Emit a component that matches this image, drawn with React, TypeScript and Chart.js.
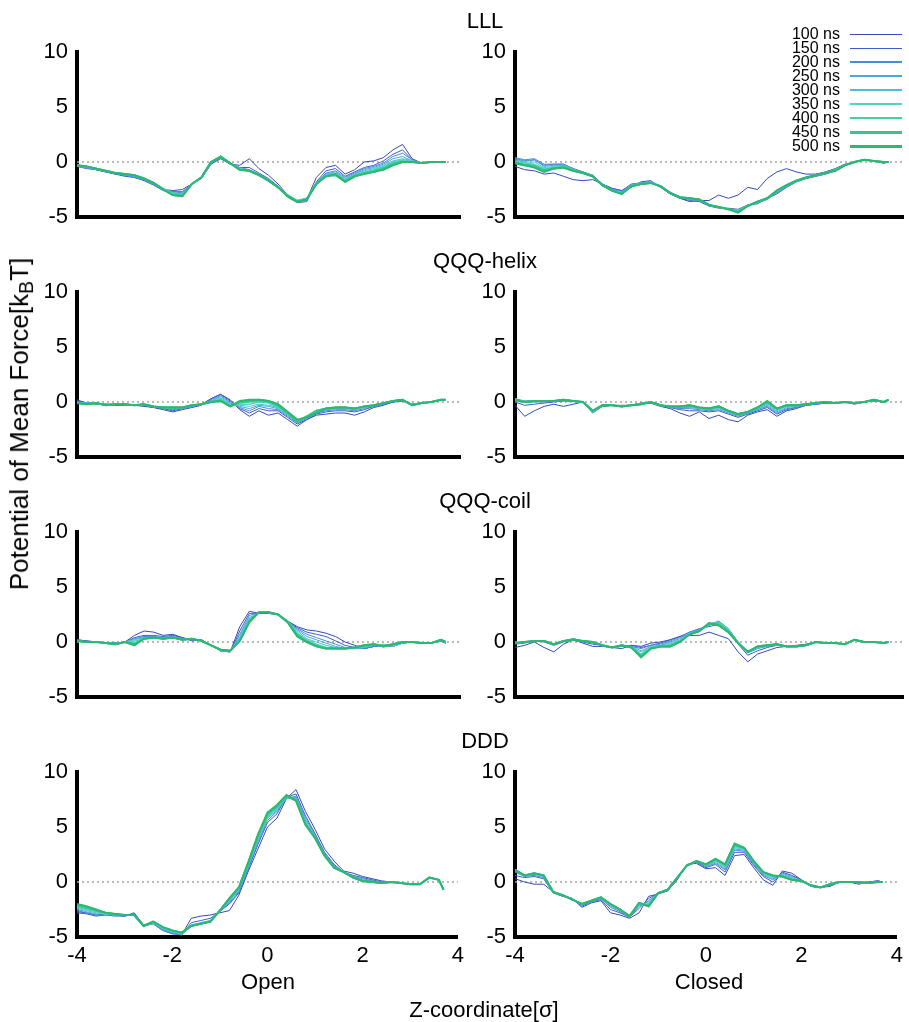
import React, { useEffect, useRef } from "react";
import { Chart, registerables } from "chart.js";

Chart.register(...registerables);

// ---- data ----
const X_VALUES = [-4.0,-3.8,-3.6,-3.4,-3.2,-3.0,-2.8,-2.6,-2.4,-2.2,-2.0,-1.8,-1.6,-1.4,-1.2,-1.0,-0.8,-0.6,-0.4,-0.2,0.0,0.2,0.4,0.6,0.8,1.0,1.2,1.4,1.6,1.8,2.0,2.2,2.4,2.6,2.8,3.0,3.2,3.4,3.6,3.7];
const SERIES = ["100 ns","150 ns","200 ns","250 ns","300 ns","350 ns","400 ns","450 ns","500 ns"];
const X_TICKS = [-4, -2, 0, 2, 4];
const Y_TICKS = [-5, 0, 5, 10];
const ROW_TITLES = ["LLL", "QQQ-helix", "QQQ-coil", "DDD"];
const COL_TITLES = ["Open", "Closed"];

const LLL_OPEN = [
  [-0.3,-0.5,-0.7,-0.9,-1.1,-1.2,-1.4,-1.6,-2.0,-2.5,-2.6,-2.5,-2.0,-1.5,-0.2,0.3,-0.2,-0.3,0.3,-0.6,-1.2,-2.0,-3.0,-3.5,-3.4,-1.4,-0.5,-0.3,-1.1,-0.7,0.0,0.1,0.4,1.1,1.6,0.3,-0.1,0.0,0.0,0.0],
  [-0.4,-0.6,-0.7,-0.9,-1.1,-1.3,-1.4,-1.7,-2.1,-2.6,-2.7,-2.7,-2.0,-1.4,-0.1,0.4,-0.2,-0.5,-0.5,-1.0,-1.5,-2.2,-3.2,-3.7,-3.6,-1.8,-0.8,-0.6,-1.3,-0.9,-0.5,-0.3,0.1,0.7,1.1,0.2,-0.1,0.0,0.0,0.0],
  [-0.4,-0.5,-0.7,-0.9,-1.0,-1.2,-1.4,-1.6,-2.0,-2.5,-2.7,-2.8,-2.0,-1.4,-0.1,0.5,-0.1,-0.5,-0.7,-1.1,-1.6,-2.2,-3.1,-3.6,-3.5,-1.9,-1.0,-0.8,-1.4,-1.0,-0.6,-0.4,-0.1,0.5,0.8,0.2,-0.1,0.0,0.0,0.0],
  [-0.4,-0.5,-0.7,-0.8,-1.0,-1.2,-1.3,-1.6,-2.0,-2.4,-2.8,-2.9,-2.0,-1.4,-0.1,0.5,-0.1,-0.6,-0.8,-1.2,-1.7,-2.3,-3.0,-3.5,-3.4,-1.9,-1.1,-0.9,-1.5,-1.1,-0.7,-0.5,-0.2,0.3,0.5,0.1,-0.1,0.0,0.0,0.0],
  [-0.3,-0.5,-0.6,-0.8,-1.0,-1.1,-1.3,-1.5,-1.9,-2.4,-2.8,-2.9,-2.0,-1.4,0.0,0.5,-0.1,-0.6,-0.8,-1.2,-1.7,-2.3,-3.0,-3.5,-3.3,-1.9,-1.1,-1.0,-1.6,-1.1,-0.8,-0.6,-0.3,0.1,0.3,0.1,-0.1,0.0,0.0,0.0],
  [-0.3,-0.4,-0.6,-0.8,-1.0,-1.1,-1.2,-1.5,-1.9,-2.4,-2.9,-3.0,-2.0,-1.4,0.0,0.5,-0.1,-0.6,-0.8,-1.2,-1.7,-2.3,-3.0,-3.5,-3.3,-1.9,-1.2,-1.1,-1.6,-1.2,-0.9,-0.7,-0.4,0.0,0.2,0.1,-0.1,0.0,0.0,0.0],
  [-0.3,-0.4,-0.6,-0.8,-1.0,-1.1,-1.2,-1.5,-1.9,-2.5,-2.9,-3.0,-2.0,-1.4,0.0,0.5,-0.1,-0.7,-0.8,-1.2,-1.7,-2.3,-3.0,-3.6,-3.3,-2.0,-1.2,-1.2,-1.7,-1.2,-1.0,-0.8,-0.5,-0.1,0.1,0.0,-0.1,0.0,0.0,0.0],
  [-0.3,-0.4,-0.6,-0.8,-1.0,-1.1,-1.2,-1.5,-1.9,-2.5,-3.0,-3.1,-2.0,-1.4,0.0,0.5,-0.1,-0.7,-0.8,-1.2,-1.7,-2.3,-3.1,-3.6,-3.4,-2.0,-1.3,-1.2,-1.8,-1.3,-1.0,-0.9,-0.6,-0.2,0.0,0.0,-0.1,0.0,0.0,0.0],
  [-0.3,-0.4,-0.6,-0.8,-1.0,-1.1,-1.2,-1.5,-1.9,-2.5,-3.0,-3.1,-2.0,-1.4,0.0,0.4,-0.1,-0.7,-0.8,-1.2,-1.7,-2.3,-3.1,-3.6,-3.4,-2.0,-1.3,-1.1,-1.8,-1.3,-1.1,-0.9,-0.7,-0.3,0.0,0.0,-0.1,0.0,0.0,0.0],
];

const LLL_CLOSED = [
  [-0.4,-0.7,-0.8,-1.1,-1.0,-1.3,-1.6,-1.7,-1.6,-2.0,-2.4,-2.6,-2.3,-1.8,-1.7,-2.3,-2.9,-3.3,-3.6,-3.5,-3.5,-3.0,-3.3,-3.0,-2.3,-2.5,-1.5,-0.9,-0.6,-0.9,-1.1,-1.1,-0.9,-0.6,-0.2,0.0,0.2,0.1,-0.1,0.0],
  [0.3,0.1,0.2,-0.3,-0.2,-0.2,-0.6,-0.9,-1.2,-2.0,-2.4,-2.6,-2.0,-1.9,-1.8,-2.3,-2.9,-3.3,-3.5,-3.6,-4.0,-4.2,-4.2,-4.3,-3.9,-3.8,-3.3,-2.9,-2.3,-1.8,-1.5,-1.3,-1.1,-0.8,-0.3,0.0,0.2,0.1,-0.1,0.0],
  [0.4,0.2,0.3,-0.2,-0.2,-0.2,-0.6,-0.9,-1.2,-2.0,-2.5,-2.7,-2.1,-1.9,-1.8,-2.2,-2.8,-3.2,-3.4,-3.5,-4.0,-4.1,-4.3,-4.4,-3.9,-3.7,-3.4,-2.8,-2.3,-1.8,-1.5,-1.3,-1.1,-0.8,-0.3,0.0,0.2,0.1,0.0,0.0],
  [0.3,0.1,0.2,-0.4,-0.3,-0.3,-0.6,-1.0,-1.2,-2.0,-2.5,-2.7,-2.1,-1.9,-1.8,-2.2,-2.8,-3.2,-3.4,-3.5,-3.9,-4.1,-4.3,-4.4,-3.9,-3.7,-3.4,-2.7,-2.2,-1.8,-1.5,-1.2,-1.0,-0.8,-0.3,0.0,0.2,0.1,0.0,0.0],
  [0.2,0.0,0.0,-0.5,-0.4,-0.3,-0.7,-1.0,-1.3,-2.1,-2.6,-2.8,-2.1,-1.9,-1.8,-2.2,-2.8,-3.2,-3.3,-3.4,-3.9,-4.1,-4.3,-4.4,-4.0,-3.6,-3.4,-2.7,-2.2,-1.7,-1.4,-1.2,-1.0,-0.8,-0.3,0.0,0.2,0.1,0.0,0.0],
  [0.1,-0.1,-0.2,-0.6,-0.5,-0.4,-0.7,-1.0,-1.3,-2.1,-2.6,-2.8,-2.2,-2.0,-1.9,-2.2,-2.8,-3.2,-3.3,-3.4,-3.9,-4.1,-4.3,-4.4,-4.0,-3.6,-3.3,-2.6,-2.1,-1.7,-1.4,-1.2,-1.0,-0.7,-0.3,0.0,0.2,0.1,0.0,0.0],
  [0.0,-0.2,-0.3,-0.7,-0.5,-0.4,-0.7,-1.0,-1.3,-2.1,-2.6,-2.9,-2.2,-2.0,-1.9,-2.2,-2.8,-3.2,-3.3,-3.4,-3.9,-4.1,-4.3,-4.5,-4.0,-3.6,-3.3,-2.6,-2.1,-1.7,-1.4,-1.2,-1.0,-0.7,-0.3,0.0,0.2,0.1,0.0,0.0],
  [-0.1,-0.3,-0.4,-0.8,-0.6,-0.5,-0.8,-1.0,-1.3,-2.1,-2.6,-2.9,-2.2,-2.0,-1.9,-2.2,-2.8,-3.2,-3.3,-3.4,-3.9,-4.1,-4.3,-4.5,-4.0,-3.6,-3.3,-2.6,-2.1,-1.7,-1.4,-1.2,-1.0,-0.8,-0.3,0.0,0.2,0.1,0.0,0.0],
  [-0.1,-0.3,-0.5,-0.9,-0.6,-0.5,-0.8,-1.0,-1.3,-2.1,-2.6,-2.9,-2.2,-2.0,-1.9,-2.2,-2.8,-3.2,-3.3,-3.4,-3.9,-4.1,-4.3,-4.6,-4.0,-3.6,-3.3,-2.6,-2.1,-1.7,-1.4,-1.2,-1.0,-0.8,-0.3,0.0,0.2,0.1,0.0,0.0],
];

const HELIX_OPEN = [
  [0.2,-0.1,-0.2,-0.2,-0.3,-0.3,-0.3,-0.4,-0.5,-0.7,-0.9,-0.7,-0.5,-0.3,0.3,0.7,0.2,-0.7,-1.3,-0.8,-1.2,-1.0,-1.6,-2.2,-1.6,-1.2,-1.1,-1.0,-1.0,-1.2,-0.9,-0.5,-0.3,0.0,0.1,-0.2,-0.1,0.0,0.2,0.2],
  [0.1,-0.1,-0.1,-0.2,-0.3,-0.2,-0.3,-0.3,-0.5,-0.6,-0.8,-0.6,-0.4,-0.2,0.3,0.7,0.1,-0.6,-1.0,-0.6,-0.8,-0.8,-1.4,-2.0,-1.6,-1.1,-0.9,-0.8,-0.8,-0.9,-0.7,-0.4,-0.2,0.0,0.1,-0.2,-0.1,0.0,0.2,0.2],
  [0.0,-0.1,-0.1,-0.2,-0.2,-0.2,-0.3,-0.3,-0.4,-0.6,-0.7,-0.6,-0.4,-0.2,0.2,0.6,0.0,-0.5,-0.8,-0.4,-0.6,-0.7,-1.3,-1.9,-1.5,-1.0,-0.8,-0.7,-0.7,-0.8,-0.6,-0.4,-0.2,0.1,0.2,-0.2,-0.1,0.0,0.2,0.2],
  [0.0,-0.1,-0.1,-0.2,-0.2,-0.2,-0.3,-0.3,-0.4,-0.5,-0.6,-0.6,-0.4,-0.2,0.1,0.5,-0.1,-0.4,-0.6,-0.3,-0.4,-0.6,-1.2,-1.8,-1.4,-0.9,-0.7,-0.6,-0.6,-0.7,-0.5,-0.3,-0.1,0.1,0.2,-0.2,-0.1,0.0,0.2,0.2],
  [-0.1,-0.1,-0.1,-0.2,-0.2,-0.2,-0.3,-0.3,-0.4,-0.5,-0.6,-0.5,-0.3,-0.2,0.1,0.4,-0.2,-0.3,-0.4,-0.2,-0.3,-0.5,-1.1,-1.7,-1.4,-0.9,-0.7,-0.6,-0.6,-0.6,-0.5,-0.3,-0.1,0.1,0.2,-0.2,-0.1,0.0,0.2,0.2],
  [-0.1,-0.2,-0.1,-0.3,-0.2,-0.2,-0.3,-0.2,-0.4,-0.5,-0.5,-0.5,-0.3,-0.2,0.0,0.3,-0.3,-0.2,-0.2,0.0,-0.1,-0.5,-1.1,-1.7,-1.3,-0.8,-0.6,-0.5,-0.5,-0.6,-0.4,-0.3,-0.1,0.1,0.2,-0.3,-0.1,0.0,0.2,0.2],
  [-0.1,-0.2,-0.1,-0.3,-0.2,-0.2,-0.3,-0.2,-0.4,-0.5,-0.5,-0.5,-0.3,-0.2,0.0,0.2,-0.3,-0.1,0.0,0.1,0.0,-0.4,-1.1,-1.8,-1.3,-0.8,-0.6,-0.5,-0.5,-0.6,-0.4,-0.3,-0.1,0.1,0.2,-0.3,-0.1,0.0,0.2,0.2],
  [-0.1,-0.2,-0.1,-0.3,-0.2,-0.2,-0.3,-0.2,-0.4,-0.5,-0.5,-0.5,-0.3,-0.2,0.0,0.1,-0.4,0.0,0.1,0.2,0.1,-0.3,-1.0,-1.8,-1.3,-0.8,-0.6,-0.5,-0.5,-0.6,-0.4,-0.3,-0.1,0.1,0.2,-0.3,-0.1,0.0,0.2,0.2],
  [-0.1,-0.2,-0.1,-0.3,-0.2,-0.2,-0.3,-0.2,-0.4,-0.5,-0.5,-0.5,-0.3,-0.2,0.0,0.1,-0.4,0.1,0.2,0.2,0.1,-0.2,-0.9,-1.6,-1.4,-1.0,-0.6,-0.5,-0.5,-0.6,-0.4,-0.3,-0.1,0.1,0.2,-0.3,-0.1,0.0,0.2,0.2],
];

const HELIX_CLOSED = [
  [-0.3,-1.3,-0.8,-0.4,-0.2,-0.4,-0.2,0.0,-0.9,-0.4,-0.3,-0.3,-0.3,-0.1,-0.1,-0.4,-0.6,-1.0,-1.3,-0.9,-1.5,-1.2,-1.6,-1.8,-1.2,-0.9,-0.7,-1.3,-0.8,-0.6,-0.3,-0.2,-0.1,-0.1,0.0,-0.2,0.0,0.1,0.0,0.2],
  [0.0,-0.3,-0.2,-0.1,0.0,0.1,0.1,0.0,-0.9,-0.4,-0.3,-0.4,-0.3,-0.1,-0.1,-0.3,-0.5,-0.7,-0.8,-0.8,-0.9,-0.8,-1.1,-1.4,-1.1,-0.8,-0.5,-1.1,-0.7,-0.5,-0.3,-0.2,-0.1,-0.1,0.0,-0.1,0.0,0.1,0.0,0.2],
  [0.1,0.0,0.0,0.0,0.1,0.1,0.1,0.0,-1.0,-0.4,-0.3,-0.4,-0.3,-0.1,0.0,-0.3,-0.5,-0.6,-0.6,-0.7,-0.8,-0.7,-1.0,-1.3,-1.0,-0.7,-0.4,-1.0,-0.6,-0.5,-0.3,-0.2,0.0,-0.1,0.0,-0.1,0.0,0.1,0.0,0.2],
  [0.2,0.1,0.1,0.1,0.1,0.2,0.1,0.0,-1.0,-0.4,-0.3,-0.4,-0.3,-0.1,0.0,-0.3,-0.4,-0.5,-0.5,-0.6,-0.7,-0.6,-0.9,-1.2,-1.0,-0.7,-0.3,-0.9,-0.5,-0.4,-0.2,-0.1,0.0,-0.1,0.0,-0.1,0.0,0.1,0.0,0.2],
  [0.3,0.1,0.1,0.1,0.1,0.2,0.1,0.0,-0.9,-0.3,-0.3,-0.4,-0.3,-0.1,0.0,-0.3,-0.4,-0.5,-0.4,-0.6,-0.7,-0.5,-0.9,-1.2,-0.9,-0.6,-0.2,-0.8,-0.4,-0.4,-0.2,-0.1,0.0,-0.1,0.0,-0.1,0.0,0.2,0.0,0.2],
  [0.3,0.0,0.1,0.1,0.1,0.2,0.1,0.0,-0.9,-0.3,-0.3,-0.4,-0.3,-0.2,0.0,-0.3,-0.4,-0.4,-0.3,-0.5,-0.6,-0.5,-0.8,-1.1,-0.9,-0.6,-0.1,-0.7,-0.4,-0.3,-0.2,-0.1,0.0,-0.1,0.0,-0.1,0.0,0.2,0.0,0.2],
  [0.2,0.0,0.1,0.1,0.1,0.2,0.1,0.0,-0.8,-0.3,-0.3,-0.4,-0.3,-0.2,0.0,-0.3,-0.4,-0.4,-0.3,-0.5,-0.6,-0.4,-0.8,-1.1,-0.9,-0.5,0.0,-0.7,-0.3,-0.3,-0.2,-0.1,0.0,-0.1,0.0,-0.1,0.0,0.2,0.0,0.2],
  [0.2,0.0,0.1,0.1,0.1,0.2,0.1,0.0,-0.8,-0.3,-0.3,-0.4,-0.3,-0.2,0.0,-0.3,-0.4,-0.4,-0.3,-0.5,-0.6,-0.4,-0.8,-1.1,-0.9,-0.5,0.0,-0.6,-0.3,-0.3,-0.2,-0.1,0.0,-0.1,0.0,-0.1,0.0,0.2,0.0,0.2],
  [0.2,0.0,0.1,0.1,0.1,0.2,0.1,0.0,-0.8,-0.3,-0.3,-0.4,-0.3,-0.2,0.0,-0.3,-0.4,-0.4,-0.3,-0.5,-0.6,-0.4,-0.8,-1.1,-0.9,-0.5,0.1,-0.6,-0.3,-0.3,-0.2,-0.1,0.0,-0.1,0.0,-0.1,0.0,0.2,0.0,0.2],
];

const COIL_OPEN = [
  [0.2,0.1,0.0,-0.1,-0.1,0.0,0.6,1.0,0.9,0.6,0.7,0.4,0.1,0.2,-0.3,-0.8,-0.9,1.4,2.8,2.6,2.6,2.5,1.9,1.4,1.1,1.0,0.8,0.5,0.0,-0.3,-0.6,-0.4,-0.3,-0.3,-0.1,0.0,-0.1,-0.1,0.1,-0.1],
  [0.2,0.1,0.0,-0.1,-0.1,0.0,0.4,0.6,0.6,0.5,0.6,0.4,0.2,0.2,-0.3,-0.8,-0.9,1.0,2.6,2.6,2.6,2.5,1.9,1.3,0.9,0.7,0.5,0.1,-0.3,-0.5,-0.6,-0.4,-0.3,-0.4,-0.1,0.0,-0.1,-0.1,0.1,-0.1],
  [0.2,0.0,0.0,-0.1,-0.1,0.0,0.3,0.5,0.5,0.4,0.5,0.3,0.2,0.2,-0.3,-0.8,-0.9,0.7,2.4,2.7,2.7,2.5,1.9,1.2,0.7,0.4,0.1,-0.2,-0.5,-0.6,-0.6,-0.4,-0.3,-0.4,-0.1,0.0,-0.1,-0.1,0.1,-0.1],
  [0.1,0.0,0.0,-0.1,-0.1,0.0,0.3,0.4,0.5,0.4,0.5,0.3,0.3,0.1,-0.3,-0.8,-0.9,0.5,2.2,2.7,2.7,2.5,1.9,1.1,0.5,0.2,-0.1,-0.4,-0.6,-0.6,-0.5,-0.3,-0.3,-0.4,-0.1,0.0,-0.1,-0.1,0.1,-0.1],
  [0.1,0.0,0.0,-0.1,-0.2,0.0,0.2,0.4,0.4,0.3,0.4,0.2,0.3,0.1,-0.3,-0.8,-0.8,0.4,2.1,2.7,2.7,2.5,1.9,1.0,0.3,0.0,-0.3,-0.5,-0.6,-0.6,-0.5,-0.3,-0.2,-0.4,-0.1,0.0,-0.1,-0.1,0.2,0.0],
  [0.1,0.0,0.0,-0.1,-0.2,0.0,0.1,0.3,0.4,0.3,0.4,0.2,0.3,0.1,-0.3,-0.7,-0.8,0.3,2.0,2.7,2.7,2.5,1.9,0.8,0.2,-0.2,-0.5,-0.6,-0.6,-0.5,-0.4,-0.2,-0.3,-0.3,0.0,0.0,-0.1,-0.1,0.2,0.0],
  [0.1,0.0,0.0,-0.1,-0.2,0.0,-0.1,0.3,0.4,0.3,0.4,0.2,0.3,0.1,-0.3,-0.7,-0.8,0.2,1.9,2.7,2.7,2.5,1.9,0.7,0.1,-0.3,-0.5,-0.6,-0.6,-0.5,-0.4,-0.2,-0.3,-0.2,0.0,0.0,-0.1,-0.1,0.2,0.0],
  [0.1,0.0,0.0,-0.1,-0.2,0.0,-0.2,0.3,0.4,0.3,0.4,0.2,0.3,0.1,-0.3,-0.7,-0.8,0.1,1.9,2.7,2.7,2.5,1.8,0.6,0.0,-0.4,-0.6,-0.6,-0.6,-0.5,-0.3,-0.2,-0.4,-0.2,0.0,0.0,-0.1,-0.1,0.2,0.0],
  [0.1,0.0,0.0,-0.1,-0.2,0.0,-0.3,0.3,0.4,0.3,0.4,0.2,0.3,0.1,-0.3,-0.7,-0.8,0.1,1.8,2.7,2.7,2.5,1.8,0.5,0.0,-0.4,-0.6,-0.6,-0.6,-0.5,-0.3,-0.2,-0.4,-0.2,0.0,0.0,-0.1,-0.1,0.2,0.0],
];

const COIL_CLOSED = [
  [-0.5,-0.3,0.0,-0.5,-0.9,-0.2,0.2,-0.1,-0.4,-0.4,-0.5,-0.6,-0.3,-0.4,-0.1,0.0,0.2,0.5,0.6,0.6,0.9,0.6,0.3,-0.9,-1.8,-1.1,-0.8,-0.5,-0.4,-0.3,-0.2,0.0,-0.1,-0.1,-0.2,0.2,0.0,0.0,-0.1,0.0],
  [-0.2,-0.1,0.1,0.0,-0.3,0.0,0.3,0.0,-0.2,-0.3,-0.5,-0.4,-0.3,-0.5,-0.3,-0.1,0.2,0.5,0.9,1.2,1.4,1.6,1.1,-0.2,-1.2,-0.8,-0.5,-0.3,-0.4,-0.4,-0.3,0.0,-0.1,-0.1,-0.2,0.2,0.0,0.0,-0.1,0.0],
  [-0.1,0.0,0.1,0.1,-0.2,0.1,0.3,0.1,-0.1,-0.3,-0.5,-0.4,-0.4,-0.6,-0.3,-0.2,0.1,0.4,0.9,1.2,1.5,1.9,1.2,0.0,-1.0,-0.6,-0.4,-0.3,-0.4,-0.4,-0.3,0.0,-0.1,-0.1,-0.2,0.2,0.0,0.0,-0.1,0.0],
  [-0.1,0.0,0.1,0.1,-0.2,0.1,0.3,0.1,0.0,-0.3,-0.5,-0.3,-0.4,-0.8,-0.4,-0.3,0.0,0.3,0.8,1.1,1.6,1.9,1.2,0.0,-0.9,-0.5,-0.3,-0.2,-0.4,-0.4,-0.3,0.0,-0.1,-0.1,-0.2,0.2,0.0,0.0,-0.1,0.0],
  [-0.1,0.0,0.1,0.1,-0.2,0.1,0.2,0.1,0.0,-0.3,-0.5,-0.3,-0.5,-0.9,-0.5,-0.3,-0.1,0.2,0.8,1.1,1.6,1.8,1.2,0.0,-0.9,-0.5,-0.3,-0.2,-0.4,-0.4,-0.3,0.0,-0.1,-0.1,-0.2,0.2,0.0,0.0,-0.1,0.0],
  [-0.1,0.0,0.1,0.1,-0.2,0.1,0.2,0.1,0.0,-0.3,-0.5,-0.3,-0.5,-1.1,-0.5,-0.4,-0.2,0.1,0.7,1.0,1.6,1.8,1.1,-0.1,-0.9,-0.5,-0.3,-0.2,-0.4,-0.4,-0.3,0.0,-0.1,-0.1,-0.2,0.2,0.0,0.0,-0.1,0.0],
  [-0.1,0.0,0.1,0.1,-0.2,0.1,0.2,0.1,0.0,-0.3,-0.5,-0.3,-0.5,-1.2,-0.6,-0.4,-0.3,0.1,0.7,1.0,1.7,1.7,1.0,-0.1,-0.9,-0.4,-0.3,-0.2,-0.4,-0.4,-0.3,0.0,-0.1,-0.1,-0.2,0.2,0.0,0.0,-0.1,0.0],
  [-0.1,0.0,0.1,0.1,-0.2,0.1,0.2,0.1,0.0,-0.3,-0.5,-0.3,-0.5,-1.3,-0.6,-0.4,-0.4,0.0,0.7,1.0,1.7,1.6,0.9,-0.1,-0.9,-0.4,-0.3,-0.2,-0.4,-0.4,-0.3,0.0,-0.1,-0.1,-0.2,0.2,0.0,0.0,-0.1,0.0],
  [-0.1,0.0,0.1,0.1,-0.2,0.1,0.2,0.1,0.0,-0.3,-0.5,-0.3,-0.5,-1.4,-0.6,-0.4,-0.4,0.0,0.7,1.0,1.7,1.5,0.9,-0.1,-0.9,-0.4,-0.3,-0.2,-0.4,-0.4,-0.3,0.0,-0.1,-0.1,-0.2,0.2,0.0,0.0,-0.1,0.0],
];

const DDD_OPEN = [
  [-2.7,-2.8,-3.0,-2.9,-3.0,-3.1,-2.8,-3.9,-3.7,-4.3,-4.6,-4.8,-3.3,-3.1,-3.0,-2.8,-2.6,-1.2,1.0,3.0,5.0,5.8,7.6,8.4,6.4,4.8,3.0,1.9,1.0,0.8,0.5,0.3,0.1,0.0,-0.1,-0.2,-0.2,0.4,0.2,-0.7],
  [-2.8,-2.9,-3.1,-3.0,-3.1,-3.1,-2.9,-4.0,-3.8,-4.4,-4.7,-4.8,-3.7,-3.5,-3.3,-2.7,-2.0,-1.0,1.2,3.4,5.4,6.2,7.7,8.0,6.0,4.4,2.7,1.6,0.9,0.6,0.4,0.2,0.0,0.0,-0.1,-0.2,-0.2,0.4,0.2,-0.7],
  [-2.6,-2.8,-3.0,-3.0,-3.0,-3.1,-2.9,-4.0,-3.8,-4.4,-4.7,-4.8,-3.9,-3.7,-3.5,-2.7,-1.9,-0.9,1.3,3.6,5.6,6.4,7.6,7.8,5.8,4.3,2.6,1.5,0.9,0.5,0.3,0.1,0.0,0.0,-0.1,-0.2,-0.2,0.4,0.2,-0.7],
  [-2.5,-2.7,-2.9,-2.9,-3.0,-3.0,-2.9,-4.0,-3.7,-4.3,-4.6,-4.8,-4.0,-3.8,-3.6,-2.7,-1.8,-0.8,1.4,3.8,5.8,6.5,7.6,7.7,5.6,4.2,2.5,1.4,0.9,0.5,0.2,0.1,-0.1,0.0,-0.1,-0.2,-0.2,0.4,0.2,-0.7],
  [-2.4,-2.6,-2.8,-2.9,-3.0,-3.0,-3.0,-4.0,-3.7,-4.2,-4.5,-4.7,-4.0,-3.8,-3.6,-2.7,-1.7,-0.7,1.5,3.9,5.9,6.6,7.6,7.6,5.5,4.1,2.5,1.4,0.9,0.4,0.2,0.0,-0.1,0.0,-0.1,-0.2,-0.2,0.4,0.2,-0.7],
  [-2.3,-2.5,-2.7,-2.9,-2.9,-3.0,-3.0,-4.0,-3.7,-4.2,-4.5,-4.7,-4.0,-3.8,-3.6,-2.6,-1.6,-0.6,1.6,4.0,6.0,6.7,7.7,7.5,5.4,4.0,2.4,1.3,0.9,0.4,0.1,0.0,-0.1,0.0,-0.1,-0.2,-0.2,0.4,0.2,-0.7],
  [-2.2,-2.4,-2.6,-2.8,-2.9,-3.0,-3.0,-4.0,-3.6,-4.1,-4.4,-4.6,-4.0,-3.8,-3.6,-2.6,-1.6,-0.6,1.7,4.1,6.1,6.8,7.7,7.5,5.3,4.0,2.4,1.3,0.9,0.4,0.1,0.0,-0.1,0.0,-0.1,-0.2,-0.2,0.4,0.2,-0.7],
  [-2.1,-2.3,-2.6,-2.8,-2.9,-3.0,-3.0,-4.0,-3.6,-4.1,-4.4,-4.6,-4.0,-3.8,-3.6,-2.6,-1.5,-0.5,1.8,4.2,6.2,6.9,7.8,7.4,5.2,4.0,2.4,1.3,0.9,0.4,0.1,0.0,-0.1,0.0,-0.1,-0.2,-0.2,0.4,0.2,-0.7],
  [-2.0,-2.2,-2.5,-2.8,-2.9,-3.0,-3.0,-4.0,-3.6,-4.1,-4.4,-4.6,-4.0,-3.8,-3.6,-2.6,-1.5,-0.5,1.8,4.3,6.3,7.0,7.9,7.4,5.2,4.0,2.4,1.3,0.9,0.4,0.1,0.0,-0.1,0.0,-0.1,-0.2,-0.2,0.4,0.2,-0.7],
];

const DDD_CLOSED = [
  [0.3,0.0,-0.2,-0.2,-0.9,-1.3,-1.5,-2.3,-1.9,-1.7,-2.8,-3.0,-3.3,-2.8,-1.3,-1.1,-0.8,0.2,1.6,1.7,1.2,1.3,0.6,2.4,2.5,1.3,0.2,-0.3,1.0,0.8,0.2,-0.4,-0.5,-0.4,0.0,0.0,-0.2,0.0,0.1,0.0],
  [0.6,0.4,0.5,0.3,-1.0,-1.3,-1.5,-2.2,-1.8,-1.6,-2.5,-2.8,-3.2,-2.4,-1.5,-1.0,-0.8,0.3,1.5,1.8,1.3,1.6,0.9,2.7,2.7,1.5,0.5,0.0,0.9,0.6,0.2,-0.4,-0.5,-0.3,0.0,0.0,-0.1,0.0,0.1,0.0],
  [0.9,0.5,0.6,0.4,-0.9,-1.2,-1.5,-2.1,-1.8,-1.5,-2.3,-2.7,-3.2,-2.2,-1.7,-1.0,-0.7,0.3,1.5,1.8,1.4,1.7,1.1,2.9,2.8,1.6,0.6,0.2,0.8,0.5,0.2,-0.4,-0.5,-0.3,0.0,0.0,-0.1,-0.1,0.1,0.0],
  [1.0,0.5,0.7,0.5,-0.9,-1.2,-1.5,-2.1,-1.7,-1.5,-2.2,-2.6,-3.1,-2.1,-1.8,-1.0,-0.7,0.4,1.5,1.9,1.5,1.8,1.2,3.0,2.9,1.7,0.7,0.3,0.7,0.4,0.1,-0.4,-0.5,-0.2,0.0,0.0,-0.1,-0.1,0.0,0.0],
  [1.1,0.6,0.8,0.6,-0.9,-1.2,-1.6,-2.0,-1.7,-1.4,-2.1,-2.6,-3.1,-2.0,-1.9,-1.0,-0.7,0.4,1.5,1.9,1.5,1.9,1.3,3.1,3.0,1.8,0.8,0.4,0.6,0.3,0.1,-0.3,-0.5,-0.2,0.0,0.0,0.0,-0.1,0.0,0.0],
  [1.1,0.6,0.8,0.6,-0.9,-1.2,-1.6,-2.0,-1.7,-1.4,-2.0,-2.5,-3.1,-2.0,-2.0,-1.0,-0.7,0.4,1.5,1.9,1.6,2.0,1.4,3.2,3.0,1.8,0.8,0.5,0.6,0.3,0.1,-0.3,-0.5,-0.2,0.0,0.0,0.0,-0.1,0.0,0.0],
  [1.1,0.6,0.8,0.6,-0.9,-1.2,-1.6,-2.0,-1.7,-1.4,-2.0,-2.5,-3.1,-1.9,-2.1,-1.0,-0.7,0.4,1.5,1.9,1.6,2.0,1.5,3.3,3.1,1.9,0.9,0.6,0.5,0.2,0.1,-0.3,-0.5,-0.2,0.0,0.0,0.0,-0.1,0.0,0.0],
  [1.1,0.6,0.8,0.6,-0.9,-1.2,-1.6,-2.0,-1.7,-1.4,-2.0,-2.5,-3.1,-1.9,-2.2,-1.0,-0.7,0.4,1.5,1.9,1.6,2.1,1.6,3.4,3.1,1.9,0.9,0.6,0.5,0.2,0.1,-0.3,-0.5,-0.2,0.0,0.0,0.0,-0.1,0.0,0.0],
  [1.1,0.6,0.8,0.6,-0.9,-1.2,-1.6,-2.0,-1.7,-1.4,-2.0,-2.5,-3.1,-1.9,-2.2,-1.0,-0.7,0.4,1.5,1.9,1.6,2.1,1.6,3.5,3.1,1.9,0.9,0.6,0.5,0.2,0.1,-0.3,-0.5,-0.2,0.0,0.0,0.0,-0.1,0.0,0.0],
];

const PANELS = [
  [LLL_OPEN, LLL_CLOSED],
  [HELIX_OPEN, HELIX_CLOSED],
  [COIL_OPEN, COIL_CLOSED],
  [DDD_OPEN, DDD_CLOSED],
];

// ---- styles ----
const COLORS = ["#3449bb", "#3a5dcc", "#4a8ad6", "#4aa8da", "#48c0d6", "#52d2c6", "#44cfa5", "#38c58b", "#2cb872"];
const WIDTHS = [1, 1, 1, 1, 1, 1.5, 1.5, 2, 2];
const LEGEND_W = [1, 1, 2, 2, 2, 2, 2, 3, 3];
const FONT = "'Liberation Sans', Arial, Helvetica, sans-serif";

const ROW_TOP0 = 52;
const ROW_STEP = 240;
const PLOT_H = 165;
const PAD_TOP = 24;
const COLS = [
  { left: 0, width: 470, yAxisW: 77, padRight: 10 },
  { left: 470, width: 439, yAxisW: 45, padRight: 6 },
];

function Panel({ values, col, row }: { values: number[][]; col: number; row: number }) {
  const ref = useRef<HTMLCanvasElement | null>(null);
  const showX = row === 3;
  const xh = showX ? 34 : 24;
  const c = COLS[col];
  const top = ROW_TOP0 + ROW_STEP * row - PAD_TOP;
  const height = PAD_TOP + PLOT_H + xh;

  useEffect(() => {
    if (!ref.current) return;
    const datasets: any[] = values.map((vals, i) => ({
      label: SERIES[i],
      data: X_VALUES.map((x, j) => ({ x, y: vals[j] })),
      borderColor: COLORS[i],
      backgroundColor: COLORS[i],
      borderWidth: WIDTHS[i],
      pointRadius: 0,
      tension: 0,
      fill: false,
      order: 10 - i,
    }));
    datasets.push({
      label: "zero",
      data: [{ x: -4, y: 0 }, { x: 4, y: 0 }],
      borderColor: "#a3a3a3",
      borderWidth: 1.3,
      borderDash: [2, 3],
      pointRadius: 0,
      fill: false,
      order: 50,
    });
    const tickFont = { family: FONT, size: 22 };
    const chart = new Chart(ref.current, {
      type: "line",
      data: { datasets },
      options: {
        animation: false,
        responsive: false,
        maintainAspectRatio: false,
        layout: { padding: { top: PAD_TOP, right: c.padRight, left: 0, bottom: 0 } },
        plugins: { legend: { display: false }, tooltip: { enabled: false } },
        scales: {
          x: {
            type: "linear",
            min: -4,
            max: 4,
            grid: { display: false, drawTicks: false },
            border: { display: true, width: 4, color: "#000" },
            afterBuildTicks: (s: any) => { s.ticks = X_TICKS.map((v) => ({ value: v })); },
            ticks: { display: showX, padding: 6, font: tickFont, color: "#000", maxRotation: 0, autoSkip: false },
            afterFit: (s: any) => { s.height = xh; },
          },
          y: {
            type: "linear",
            min: -5,
            max: 10,
            grid: { display: false, drawTicks: false },
            border: { display: true, width: 4, color: "#000" },
            afterBuildTicks: (s: any) => { s.ticks = Y_TICKS.map((v) => ({ value: v })); },
            ticks: { padding: 9, font: tickFont, color: "#000", autoSkip: false },
            afterFit: (s: any) => { s.width = c.yAxisW; },
          },
        },
      } as any,
    });
    return () => chart.destroy();
  }, []);

  return (
    <canvas
      ref={ref}
      width={c.width}
      height={height}
      style={{ position: "absolute", left: c.left, top, width: c.width, height }}
    />
  );
}

export default function App() {
  const text: React.CSSProperties = { position: "absolute", fontFamily: FONT, color: "#000", whiteSpace: "nowrap", transform: "translate(-50%, -50%)" };
  return (
    <div style={{ position: "absolute", left: 0, top: 0, width: 909, height: 1022, background: "#fff", fontFamily: FONT, overflow: "hidden" }}>
      {PANELS.map((rowPanels, r) =>
        rowPanels.map((vals, cIdx) => <Panel key={`${r}-${cIdx}`} values={vals} col={cIdx} row={r} />)
      )}
      {ROW_TITLES.map((t, r) => (
        <div key={t} style={{ ...text, left: 485, top: ROW_TOP0 + ROW_STEP * r - 31, fontSize: 22 }}>{t}</div>
      ))}
      <div style={{ ...text, left: 268, top: 982, fontSize: 22 }}>{COL_TITLES[0]}</div>
      <div style={{ ...text, left: 709, top: 982, fontSize: 22 }}>{COL_TITLES[1]}</div>
      <div style={{ ...text, left: 484, top: 1010, fontSize: 22 }}>Z-coordinate[σ]</div>
      <div style={{ ...text, left: 21, top: 424, fontSize: 26, transform: "translate(-50%, -50%) rotate(-90deg)" }}>
        Potential of Mean Force[k<sub style={{ fontSize: "0.75em", verticalAlign: "-0.25em" }}>B</sub>T]
      </div>
      <div style={{ position: "absolute", left: 760, top: 27, width: 145, height: 130 }}>
        {SERIES.map((s, i) => (
          <div key={s} style={{ position: "absolute", left: 0, top: 14 * i, width: 145, height: 14 }}>
            <span style={{ position: "absolute", right: 65, top: -2, fontSize: 16, lineHeight: "17px", fontFamily: FONT, whiteSpace: "nowrap" }}>{s}</span>
            <div style={{ position: "absolute", left: 90, top: 7 - Math.floor(LEGEND_W[i] / 2), width: 52, height: LEGEND_W[i], background: COLORS[i] }} />
          </div>
        ))}
      </div>
    </div>
  );
}
